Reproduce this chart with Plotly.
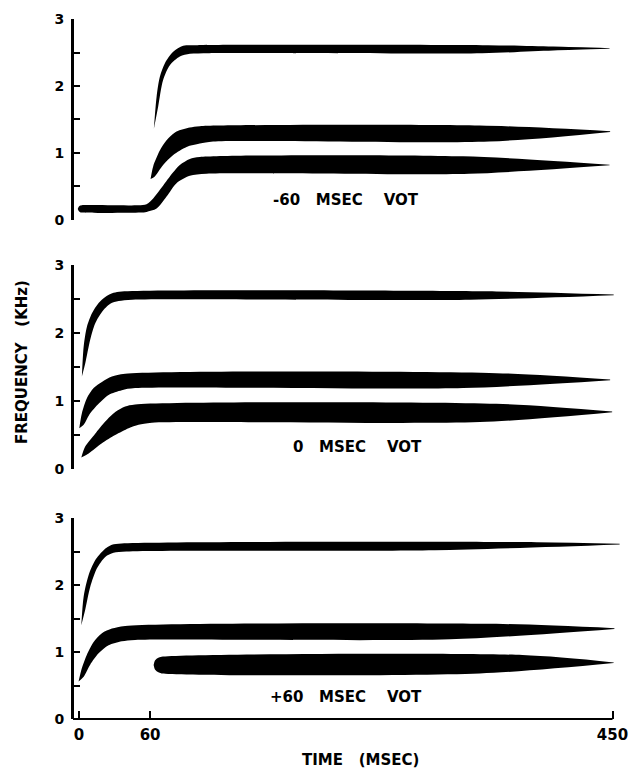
import plotly.graph_objects as go

# ---------------- data (time in msec, frequency in kHz) ----------------
# Panel 1: -60 msec VOT
m60_f3_top_t = [63.2, 65.5, 68.3, 72.5, 79.5, 87.9, 100, 345, 400, 447.5]
m60_f3_top_k = [1.36, 1.84, 2.14, 2.34, 2.51, 2.60, 2.61, 2.61, 2.59, 2.565]
m60_f3_bot_t = [63.2, 66.8, 71, 76.7, 85.1, 93.6, 110, 340, 400, 447.5]
m60_f3_bot_k = [1.36, 1.69, 2.09, 2.31, 2.44, 2.48, 2.49, 2.49, 2.53, 2.555]

m60_f2_top_t = [60.4, 62.6, 68.3, 73.9, 82.3, 93.5, 102, 338, 448]
m60_f2_top_k = [0.61, 0.80, 1.04, 1.19, 1.32, 1.38, 1.40, 1.41, 1.325]
m60_f2_bot_t = [60.4, 64, 71, 79.5, 90.8, 102, 113.2, 346, 448]
m60_f2_bot_k = [0.61, 0.65, 0.82, 0.97, 1.09, 1.14, 1.17, 1.17, 1.315]

m60_f1_top_t = [-1, 0, 1, 2.4, 50, 57, 62.6, 68.3, 76.7, 85.1, 93.5, 102, 324, 447.5]
m60_f1_top_k = [0.165, 0.20, 0.215, 0.22, 0.22, 0.235, 0.32, 0.45, 0.65, 0.82, 0.91, 0.94, 0.95, 0.825]
m60_f1_bot_t = [-1, 0, 1, 2.4, 52, 57, 65.5, 73.9, 82.3, 93.5, 107.6, 329, 447.5]
m60_f1_bot_k = [0.165, 0.13, 0.117, 0.11, 0.11, 0.12, 0.17, 0.35, 0.55, 0.66, 0.69, 0.69, 0.815]

# Panel 2: 0 msec VOT
z_f3_top_t = [2.5, 4, 6.7, 11, 16.6, 22.2, 29.2, 36.2, 352, 451]
z_f3_top_k = [1.36, 1.80, 2.09, 2.29, 2.44, 2.53, 2.59, 2.61, 2.61, 2.565]
z_f3_bot_t = [2.5, 5.3, 9.5, 13.7, 19.4, 26.4, 33.5, 45, 330, 451]
z_f3_bot_k = [1.36, 1.55, 1.90, 2.14, 2.31, 2.43, 2.47, 2.49, 2.49, 2.555]

z_f2_top_t = [0.3, 2.5, 6.7, 12.4, 19.4, 27.8, 39, 352, 448]
z_f2_top_k = [0.60, 0.82, 1.04, 1.19, 1.28, 1.36, 1.40, 1.41, 1.315]
z_f2_bot_t = [0.3, 4, 9.5, 16.6, 25, 36.2, 47.4, 324, 448]
z_f2_bot_k = [0.60, 0.65, 0.82, 0.96, 1.09, 1.16, 1.19, 1.19, 1.305]

z_f1_top_t = [2, 5.3, 13.7, 22.2, 30.6, 39, 47.4, 352, 449.7]
z_f1_top_k = [0.17, 0.33, 0.52, 0.70, 0.84, 0.92, 0.95, 0.96, 0.845]
z_f1_bot_t = [2, 8.2, 19.4, 30.6, 41.9, 50.3, 61.5, 338, 449.7]
z_f1_bot_k = [0.17, 0.23, 0.38, 0.50, 0.60, 0.65, 0.68, 0.69, 0.835]

# Panel 3: +60 msec VOT
p60_f3_top_t = [2, 4, 8.2, 13.7, 20.8, 27.8, 36, 386, 456]
p60_f3_top_k = [1.40, 1.83, 2.15, 2.37, 2.52, 2.60, 2.62, 2.64, 2.615]
p60_f3_bot_t = [2, 5.3, 9.5, 15.2, 22.2, 29.2, 40, 300, 456]
p60_f3_bot_k = [1.40, 1.63, 1.97, 2.25, 2.42, 2.48, 2.50, 2.52, 2.605]

p60_f2_top_t = [-0.3, 2.5, 6.7, 12.4, 19.4, 27.8, 39, 352, 451.6]
p60_f2_top_k = [0.56, 0.76, 0.96, 1.15, 1.28, 1.35, 1.39, 1.42, 1.355]
p60_f2_bot_t = [-0.3, 4, 9.5, 16.6, 25, 36.2, 47.4, 313, 451.6]
p60_f2_bot_k = [0.56, 0.63, 0.81, 0.98, 1.10, 1.16, 1.18, 1.19, 1.345]

p60_f1_top_t = [63, 64, 65.5, 67, 69.7, 374, 451]
p60_f1_top_k = [0.805, 0.868, 0.898, 0.914, 0.93, 0.955, 0.845]
p60_f1_bot_t = [63, 64, 65.5, 67, 69.7, 338, 451]
p60_f1_bot_k = [0.805, 0.742, 0.712, 0.696, 0.68, 0.68, 0.835]

NB = "\u00a0"
panel_labels = ["-60" + NB * 3 + "MSEC" + NB * 4 + "VOT",
                "0" + NB * 3 + "MSEC" + NB * 4 + "VOT",
                "+60" + NB * 3 + "MSEC" + NB * 4 + "VOT"]
label_t = [225, 235, 225]
label_k = [0.30, 0.32, 0.33]

y_title = "FREQUENCY" + NB * 3 + "(KHz)"
x_title = "TIME" + NB * 3 + "(MSEC)"

y_ticks = [0, 0.5, 1, 1.5, 2, 2.5, 3]
y_tick_text = ["0", "", "1", "", "2", "", "3"]
x_ticks = [0, 60, 450]
x_tick_text = ["0", "60", "450"]
x_range = [-5, 458]

panels = [
    [(m60_f3_top_t, m60_f3_top_k, m60_f3_bot_t, m60_f3_bot_k),
     (m60_f2_top_t, m60_f2_top_k, m60_f2_bot_t, m60_f2_bot_k),
     (m60_f1_top_t, m60_f1_top_k, m60_f1_bot_t, m60_f1_bot_k)],
    [(z_f3_top_t, z_f3_top_k, z_f3_bot_t, z_f3_bot_k),
     (z_f2_top_t, z_f2_top_k, z_f2_bot_t, z_f2_bot_k),
     (z_f1_top_t, z_f1_top_k, z_f1_bot_t, z_f1_bot_k)],
    [(p60_f3_top_t, p60_f3_top_k, p60_f3_bot_t, p60_f3_bot_k),
     (p60_f2_top_t, p60_f2_top_k, p60_f2_bot_t, p60_f2_bot_k),
     (p60_f1_top_t, p60_f1_top_k, p60_f1_bot_t, p60_f1_bot_k)],
]

FONT = "DejaVu Sans, Arial, sans-serif"

fig = go.Figure()
for i, formants in enumerate(panels):
    ax = "" if i == 0 else str(i + 1)
    for (tt, tk, bt, bk) in formants:
        fig.add_trace(go.Scatter(x=bt, y=bk, mode="lines",
                                 line=dict(width=0, shape="spline", smoothing=0.8, color="black"),
                                 xaxis="x" + ax, yaxis="y" + ax, showlegend=False,
                                 hoverinfo="skip"))
        fig.add_trace(go.Scatter(x=tt, y=tk, mode="lines",
                                 line=dict(width=0, shape="spline", smoothing=0.8, color="black"),
                                 fill="tonexty", fillcolor="black",
                                 xaxis="x" + ax, yaxis="y" + ax, showlegend=False,
                                 hoverinfo="skip"))

domains = [[0.7129, 1.0], [0.3571, 0.6486], [0.0, 0.2871]]

layout = dict(
    width=634, height=762,
    margin=dict(l=65, r=20, t=11, b=51, autoexpand=False),
    paper_bgcolor="white", plot_bgcolor="white",
    showlegend=False,
    font=dict(family=FONT, color="black"),
)
for i in range(3):
    ax = "" if i == 0 else str(i + 1)
    bottom = (i == 2)
    layout["xaxis" + ax] = dict(
        domain=[0, 1], anchor="y" + ax, range=x_range, automargin=False,
        showgrid=False, zeroline=False, showline=False,
        tickmode="array", tickvals=x_ticks if bottom else [],
        ticktext=x_tick_text if bottom else [],
        ticks="inside" if bottom else "", ticklen=8, tickwidth=2, tickcolor="black",
        showticklabels=bottom, ticklabelstandoff=5,
        tickfont=dict(family=FONT, size=15, weight="bold", color="black"),
    )
    layout["yaxis" + ax] = dict(
        domain=domains[i], anchor="x" + ax, range=[0, 3], automargin=False,
        showgrid=False, zeroline=False, showline=True, linewidth=2, linecolor="black",
        tickmode="array", tickvals=y_ticks, ticktext=y_tick_text,
        ticks="inside", ticklen=7, tickwidth=2, tickcolor="black",
        ticklabelstandoff=4,
        tickfont=dict(family=FONT, size=14, weight="bold", color="black"),
    )
fig.update_layout(**layout)

# axis lines drawn explicitly (frequency axes and the time axis ending at 450)
for i in range(3):
    fig.add_shape(type="line", xref="paper", yref="paper", x0=0, x1=0,
                  y0=domains[i][0], y1=domains[i][1],
                  line=dict(color="black", width=2))
fig.add_shape(type="line", xref="x3", yref="paper", x0=x_range[0], x1=450, y0=0, y1=0,
              line=dict(color="black", width=2))

for i in range(3):
    ax = "" if i == 0 else str(i + 1)
    fig.add_annotation(x=label_t[i], y=label_k[i], xref="x" + ax, yref="y" + ax,
                       text=panel_labels[i], showarrow=False,
                       font=dict(family=FONT, size=15, weight="bold", color="black"))

fig.add_annotation(x=-0.0929, y=0.51, xref="paper", yref="paper",
                   text=y_title, textangle=-90, showarrow=False,
                   xanchor="center", yanchor="middle",
                   font=dict(family=FONT, size=15, weight="bold", color="black"))
fig.add_annotation(x=0.5228, y=-0.0586, xref="paper", yref="paper",
                   text=x_title, showarrow=False,
                   xanchor="center", yanchor="middle",
                   font=dict(family=FONT, size=15, weight="bold", color="black"))

fig.write_html("out.html")
